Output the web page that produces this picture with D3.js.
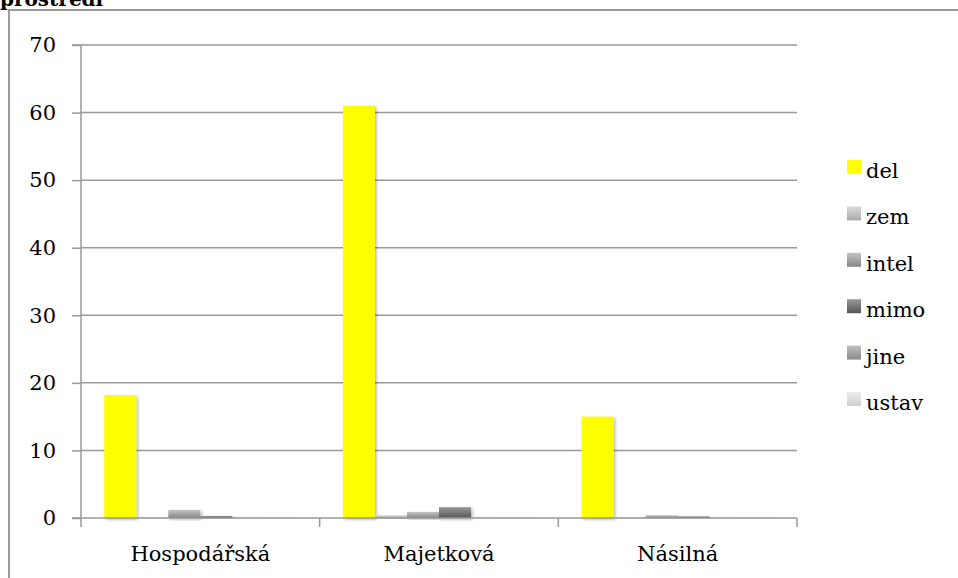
<!DOCTYPE html>
<html>
<head>
<meta charset="utf-8">
<script src="https://cdn.jsdelivr.net/npm/d3@7"></script>
<style>
  body{margin:0;background:#fff}
  svg{display:block}
  text{font-family:"DejaVu Serif","Liberation Serif",serif;fill:#000}
</style>
</head>
<body>
<script>
  const categories = ["Hospodářská","Majetková","Násilná"]
  const seriesNames = ["del","zem","intel","mimo","jine","ustav"]
  const del   = [18.2, 61, 15]
  const zem   = [0.1, 0.4, 0.1]
  const intel = [1.2, 0.9, 0.4]
  const mimo  = [0.3, 1.6, 0.25]
  const jine  = [0.05, 0.05, 0.05]
  const ustav = [0.05, 0.05, 0.05]
  const yTicks = [0,10,20,30,40,50,60,70]

  const seriesValues = [del, zem, intel, mimo, jine, ustav]
  const colors = {
    del:["#ffff00","#ffff00"],
    zem:["#dcdcdc","#a9a9a9"],
    intel:["#c4c4c4","#858585"],
    mimo:["#9a9a9a","#555555"],
    jine:["#c0c0c0","#8a8a8a"],
    ustav:["#ececec","#cfcfcf"]
  }

  const width = 958, height = 578
  const fs = 21
  const svg = d3.select("body").append("svg").attr("width",width).attr("height",height)

  const defs = svg.append("defs")
  seriesNames.forEach(s=>{
    let g = defs.append("linearGradient").attr("id",`g_${s}`).attr("x1",0).attr("y1",0).attr("x2",0).attr("y2",1)
    g.append("stop").attr("offset","0%").attr("stop-color",colors[s][0])
    g.append("stop").attr("offset","100%").attr("stop-color",colors[s][1])
  })
  let f = defs.append("filter").attr("id","shadow").attr("x","-20%").attr("y","-20%").attr("width","150%").attr("height","150%")
  f.append("feDropShadow").attr("dx",1.5).attr("dy",1.5).attr("stdDeviation",1.5).attr("flood-color","#000").attr("flood-opacity",0.3)

  // title (cut off at the top edge, as in the source) and outer frame
  svg.append("text").attr("x",0).attr("y",6).attr("font-size",20).attr("font-weight","bold").text("prostředí")
  svg.append("path").attr("d",`M9,${height+5} L9,10 L${width+5},10`).attr("fill","none").attr("stroke","#999").attr("stroke-width",2)

  const pLeft = 81, pRight = 797, pTop = 45, pBottom = 518
  const x = d3.scaleBand().domain(categories).range([pLeft,pRight])
  const pad = (x.step()-32*6)/2
  const inner = d3.scaleBand().domain(seriesNames).range([pad, x.step()-pad])
  const y = d3.scaleLinear().domain([0,70]).range([pBottom,pTop])

  // grid
  svg.append("g").selectAll("line").data(yTicks.filter(d=>d>0)).join("line")
    .attr("x1",pLeft).attr("x2",pRight).attr("y1",d=>y(d)).attr("y2",d=>y(d))
    .attr("stroke","#999").attr("stroke-width",1.5)

  // y axis
  const yAxis = svg.append("g").attr("transform",`translate(${pLeft},0)`)
    .call(d3.axisLeft(y).tickValues(yTicks).tickSize(9).tickPadding(16))
  yAxis.select(".domain").attr("stroke","#999").attr("stroke-width",1.5).attr("d",`M-9,${pTop}H0V${pBottom}H-9`)
  yAxis.selectAll(".tick line").attr("stroke","#999").attr("stroke-width",1.5)
  yAxis.selectAll(".tick text").attr("font-size",fs).attr("font-family","DejaVu Serif").attr("fill","#000")

  // bars
  const groups = svg.append("g").selectAll("g").data(categories).join("g")
    .attr("transform",d=>`translate(${x(d)},0)`)
  groups.selectAll("rect")
    .data((c,i)=>seriesNames.map((s,j)=>({s:s,value:seriesValues[j][i]})))
    .join("rect")
    .attr("x",d=>inner(d.s))
    .attr("width",inner.bandwidth())
    .attr("y",d=>y(d.value))
    .attr("height",d=>pBottom-y(d.value))
    .attr("fill",d=>`url(#g_${d.s})`)
    .attr("filter","url(#shadow)")

  // x axis
  const xAxis = svg.append("g").attr("transform",`translate(0,${pBottom})`)
    .call(d3.axisBottom(x).tickSize(0).tickPadding(28))
  xAxis.select(".domain").attr("stroke","#999").attr("stroke-width",1.5).attr("d",`M${pLeft},0H${pRight}`)
  xAxis.selectAll(".tick text").attr("font-size",fs).attr("font-family","DejaVu Serif").attr("fill","#000")
  svg.append("g").selectAll("line").data(d3.range(categories.length+1)).join("line")
    .attr("x1",i=>pLeft+i*x.step()).attr("x2",i=>pLeft+i*x.step())
    .attr("y1",pBottom).attr("y2",pBottom+9)
    .attr("stroke","#999").attr("stroke-width",1.5)

  // legend
  const legend = svg.append("g").attr("transform","translate(847,0)")
  const items = legend.selectAll("g").data(seriesNames).join("g")
    .attr("transform",(d,i)=>`translate(0,${170+i*46.4})`)
  items.append("rect").attr("x",0).attr("y",-10).attr("width",14).attr("height",14)
    .attr("fill",d=>`url(#g_${d})`)
  items.append("text").attr("x",19).attr("y",8).attr("font-size",fs).text(d=>d)
</script>
</body>
</html>
